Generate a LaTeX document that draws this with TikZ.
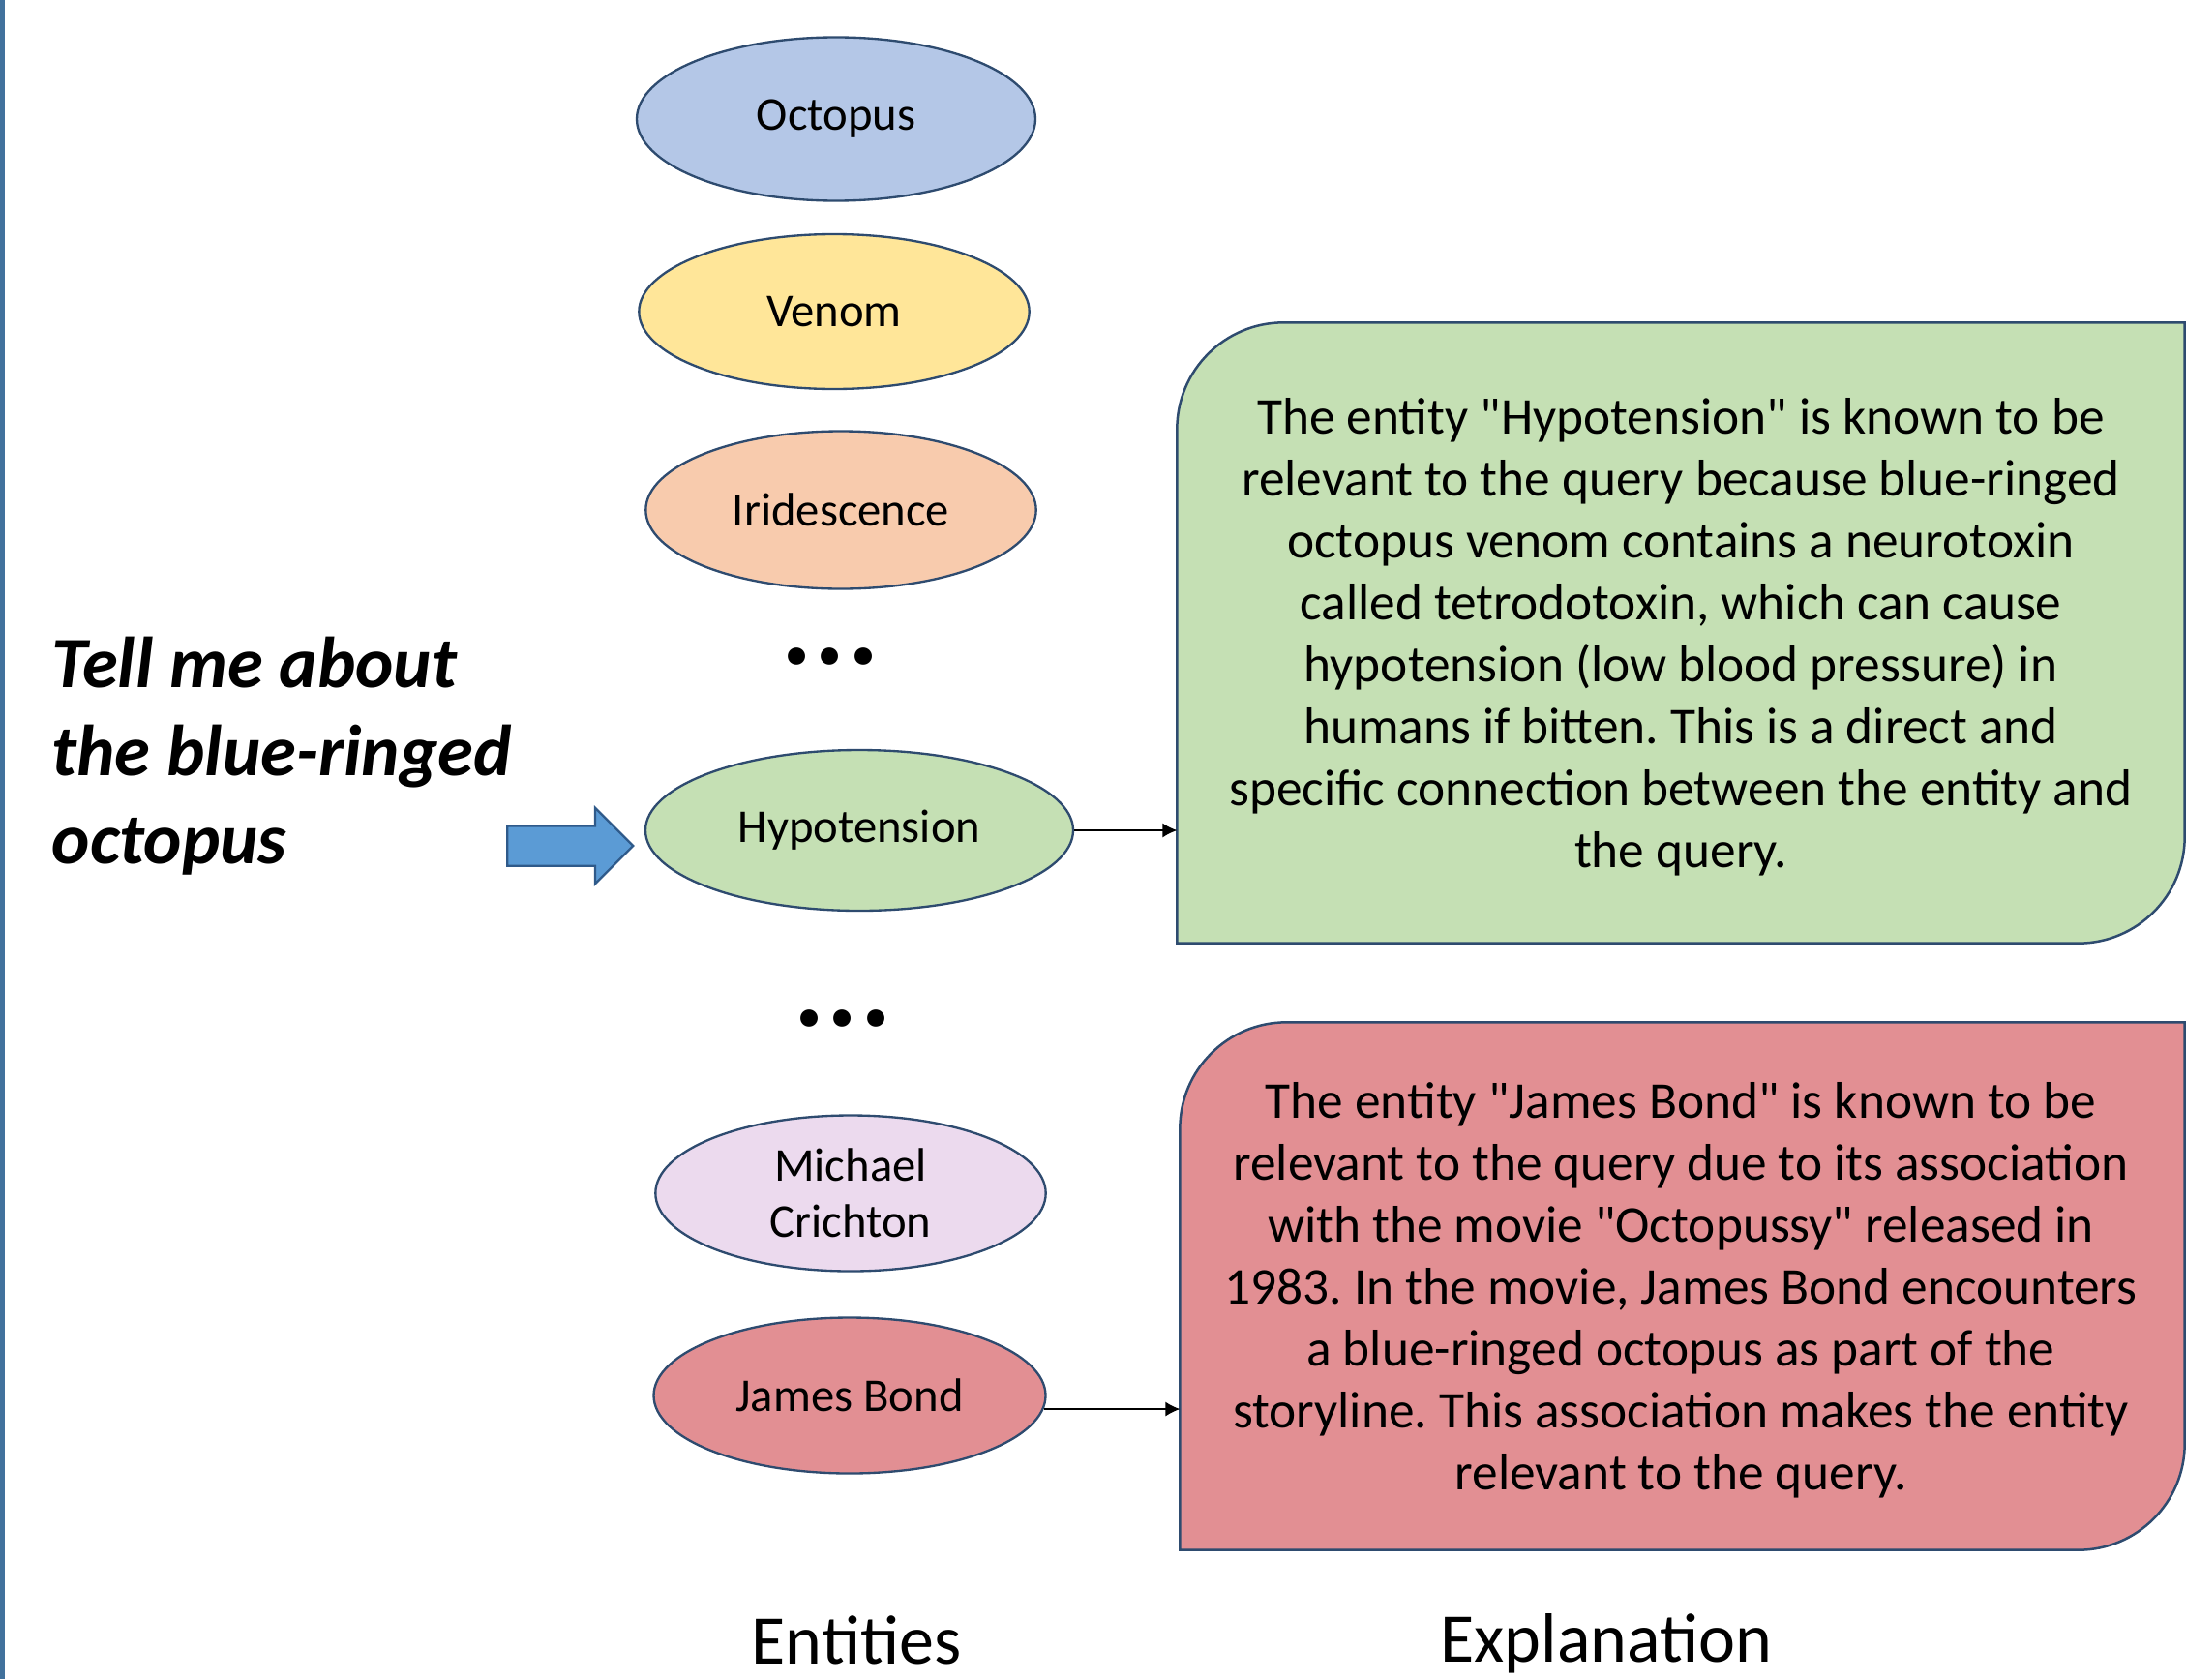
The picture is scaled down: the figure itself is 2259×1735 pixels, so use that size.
\documentclass[tikz,border=0pt]{standalone}
\usepackage{fontspec}
\setmainfont{Carlito}
\newfontfamily\qfont{Carlito}
\usetikzlibrary{shapes.geometric,shapes.arrows,arrows.meta,backgrounds}

\definecolor{barcol}{HTML}{41719C}
\definecolor{edgecol}{HTML}{2E4B6F}
\definecolor{octfill}{HTML}{B4C7E7}
\definecolor{venfill}{HTML}{FFE699}
\definecolor{irifill}{HTML}{F8CBAD}
\definecolor{hypfill}{HTML}{C5E0B4}
\definecolor{mcfill}{HTML}{ECDAEE}
\definecolor{jbfill}{HTML}{E28F93}
\definecolor{arrfill}{HTML}{5B9BD5}
\definecolor{arredge}{HTML}{2F5A8A}

\frenchspacing
\newcommand{\qt}{{\qfont\symbol{34}}}

\begin{document}
\begin{tikzpicture}[x=0.3pt,y=0.3pt,
	entity/.style={ellipse,draw=edgecol,line width=0.7pt,inner sep=0pt,
		minimum width=121pt,minimum height=48.5pt,align=center,
		font=\fontsize{14.6pt}{17.4pt}\selectfont},
	explbox/.style={inner sep=0pt,align=center,
		font=\fontsize{16pt}{19.2pt}\selectfont},
	boxline/.style={draw=edgecol,line width=0.75pt},
	link/.style={-{Latex[length=4.5pt,width=4.5pt]},line width=0.4pt},
	qarrow/.style={single arrow,draw=arredge,fill=arrfill,line width=0.7pt,
		inner sep=0pt,text height=11.7pt,text depth=0pt,text width=0pt,
		minimum height=39pt,minimum width=22.8pt,
		single arrow head extend=5.55pt,single arrow tip angle=90,
		single arrow head indent=0pt},
	dots/.style={font=\fontsize{36pt}{40pt}\selectfont\bfseries,inner sep=0pt},
	coltitle/.style={anchor=base,inner sep=0pt,font=\fontsize{21.6pt}{26pt}\selectfont}]
	
	\def\rad{33pt}
	\def\dotgap{\kern0.75pt}
	
	\useasboundingbox (0,0) rectangle (2259,-1735);
	\fill[barcol] (0,0) rectangle (5,-1735);
	
	\node[entity,fill=octfill,minimum width=123.6pt,minimum height=50.7pt] (oct) at (864,-123) {Octopus};
	\node[entity,fill=venfill,minimum height=48pt] (ven) at (862,-322) {Venom};
	\node[entity,fill=irifill,minimum height=48.9pt] (iri) at (869,-527) {Iridescence};
	\node[dots] (dotsa) at (858,-678) {.\dotgap.\dotgap.};
	\node[entity,fill=hypfill,minimum width=132.6pt,minimum height=49.8pt] (hyp) at (888,-858) {Hypotension};
	\node[dots] (dotsb) at (871,-1052) {.\dotgap.\dotgap.};
	\node[entity,fill=mcfill,minimum height=48.3pt] (mc) at (879,-1233) {Michael\\Crichton};
	\node[entity,fill=jbfill,minimum width=121.5pt,minimum height=48.3pt] (jb) at (878,-1442) {James Bond};
	
	\node[anchor=west,inner sep=0pt,align=left,font=\fontsize{22.4pt}{27.3pt}\selectfont\bfseries\itshape] (query) at (53,-781) {Tell me about\\the blue-ringed\\octopus};
	\node[qarrow,anchor=west] (qarr) at (523,-874) {};
	
	\node[explbox,minimum width=312pt,minimum height=192pt] (hypbox) at (1737,-654) {};
	\node[explbox] (hyptext) at (1737,-658) {The entity \qt Hypotension\qt{} is known to be\\relevant to the query because blue-ringed\\octopus venom contains a neurotoxin\\called tetrodotoxin, which can cause\\hypotension (low blood pressure) in\\humans if bitten. This is a direct and\\specific connection between the entity and\\the query.};
	\node[explbox,minimum width=311.1pt,minimum height=163.2pt] (jbbox) at (1738.5,-1329) {};
	\node[explbox] (jbtext) at (1737,-1333) {The entity \qt James Bond\qt{} is known to be\\relevant to the query due to its association\\with the movie \qt Octopussy\qt{} released in\\1983. In the movie, James Bond encounters\\a blue-ringed octopus as part of the\\storyline. This association makes the entity\\relevant to the query.};
	
	\begin{scope}[on background layer]
		\draw[boxline,fill=hypfill] (hypbox.north east) -- ([xshift=\rad]hypbox.north west) arc[start angle=90,end angle=180,radius=\rad] -- (hypbox.south west) -- ([xshift=-\rad]hypbox.south east) arc[start angle=270,end angle=360,radius=\rad] -- cycle;
		\draw[boxline,fill=jbfill] (jbbox.north east) -- ([xshift=\rad]jbbox.north west) arc[start angle=90,end angle=180,radius=\rad] -- (jbbox.south west) -- ([xshift=-\rad]jbbox.south east) arc[start angle=270,end angle=360,radius=\rad] -- cycle;
	\end{scope}
	
	\draw[link] (hyp.east) -- (hyp.east -| hypbox.west);
	\draw[link] (jb.-4) -- (jb.-4 -| jbbox.west);
	
	\node[coltitle] (enttitle) at (885,-1719) {Entities};
	\node[coltitle] (expltitle) at (1660,-1717) {Explanation};
\end{tikzpicture}
\end{document}
